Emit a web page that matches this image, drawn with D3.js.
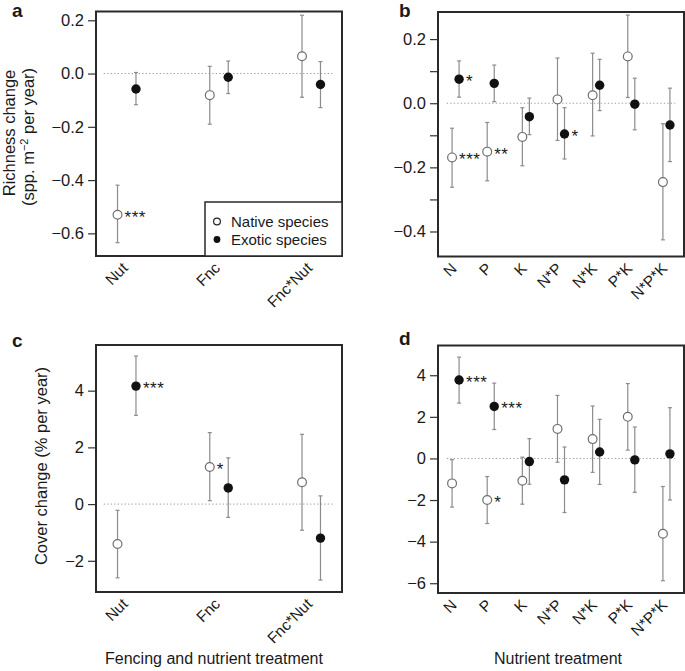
<!DOCTYPE html>
<html><head><meta charset="utf-8">
<script src="https://cdn.jsdelivr.net/npm/d3@7"></script>
<style>body{margin:0;background:#fff}svg{display:block}text{font-family:"Liberation Sans",Arial,Helvetica,sans-serif;fill:#1a1a1a}</style>
</head><body><svg id="c" width="685" height="671"></svg>
<script>
// ---------- DATA ----------
const catsFence = ["Nut", "Fnc", "Fnc*Nut"];
const catsNutr = ["N", "P", "K", "N*P", "N*K", "P*K", "N*P*K"];

// a: richness change, fencing & nutrients
const richFenceNative = [-0.53, -0.081, 0.065];
const richFenceNativeLo = [-0.635, -0.19, -0.089];
const richFenceNativeHi = [-0.419, 0.027, 0.219];
const richFenceExotic = [-0.058, -0.014, -0.041];
const richFenceExoticLo = [-0.117, -0.075, -0.128];
const richFenceExoticHi = [0.004, 0.047, 0.045];
const richFenceNativeSig = ["***", "", ""];
const richFenceExoticSig = ["", "", ""];

// b: richness change, nutrients
const richNutrNative = [-0.169, -0.151, -0.105, 0.012, 0.025, 0.146, -0.246];
const richNutrNativeLo = [-0.262, -0.242, -0.195, -0.116, -0.102, 0.018, -0.426];
const richNutrNativeHi = [-0.078, -0.06, -0.014, 0.141, 0.156, 0.275, -0.064];
const richNutrExotic = [0.075, 0.062, -0.042, -0.096, 0.056, -0.003, -0.068];
const richNutrExoticLo = [0.019, 0.005, -0.098, -0.174, -0.023, -0.083, -0.182];
const richNutrExoticHi = [0.132, 0.119, 0.016, -0.014, 0.137, 0.078, 0.047];
const richNutrNativeSig = ["***", "**", "", "", "", "", ""];
const richNutrExoticSig = ["*", "", "", "*", "", "", ""];

// c: cover change, fencing & nutrients
const covFenceNative = [-1.41, 1.31, 0.77];
const covFenceNativeLo = [-2.6, 0.12, -0.92];
const covFenceNativeHi = [-0.22, 2.52, 2.46];
const covFenceExotic = [4.16, 0.57, -1.2];
const covFenceExoticLo = [3.13, -0.47, -2.68];
const covFenceExoticHi = [5.22, 1.63, 0.29];
const covFenceNativeSig = ["", "*", ""];
const covFenceExoticSig = ["***", "", ""];

// d: cover change, nutrients
const covNutrNative = [-1.2, -2.0, -1.07, 1.42, 0.93, 2.0, -3.62];
const covNutrNativeLo = [-2.34, -3.13, -2.2, -0.18, -0.67, 0.4, -5.88];
const covNutrNativeHi = [-0.06, -0.87, 0.06, 3.03, 2.52, 3.6, -1.35];
const covNutrExotic = [3.77, 2.5, -0.15, -1.03, 0.31, -0.07, 0.22];
const covNutrExoticLo = [2.66, 1.39, -1.24, -2.6, -1.25, -1.63, -2.0];
const covNutrExoticHi = [4.87, 3.62, 0.95, 0.55, 1.88, 1.51, 2.44];
const covNutrNativeSig = ["", "*", "", "", "", "", ""];
const covNutrExoticSig = ["***", "***", "", "", "", "", ""];

// tick labels
const ticksA = [0.2, 0.0, -0.2, -0.4, -0.6];
const ticksB = [0.2, 0.1, 0.0, -0.1, -0.2, -0.3, -0.4];
const ticksBLabeled = [0.2, 0.0, -0.2, -0.4];
const ticksC = [4, 2, 0, -2];
const ticksD = [4, 2, 0, -2, -4, -6];

const legendLabels = ["Native species", "Exotic species"];
const xTitleLeft = "Fencing and nutrient treatment";
const xTitleRight = "Nutrient treatment";

// ---------- DRAW ----------
const svg = d3.select("#c");
const fmt1 = d => d === 0 ? "0.0" : d3.format(".1f")(d).replace("-", "\u2212");
const fmt0 = d => d3.format("d")(d).replace("-", "\u2212");

function series(mean, lo, hi, sig) {
  return mean.map((m, i) => ({i, m, lo: lo[i], hi: hi[i], sig: sig[i]}));
}

const panels = [
  {letter: "a", lx: 12, ly: 17, x0: 96, x1: 342, y0: 11.5, y1: 256, ydom: [-0.685, 0.233],
   cats: catsFence, xdom: [2/3, 3 + 1/3], ticks: ticksA, labeled: ticksA, fmt: fmt1,
   native: series(richFenceNative, richFenceNativeLo, richFenceNativeHi, richFenceNativeSig),
   exotic: series(richFenceExotic, richFenceExoticLo, richFenceExoticHi, richFenceExoticSig)},
  {letter: "b", lx: 399, ly: 17, x0: 438, x1: 684, y0: 12, y1: 256.5, ydom: [-0.478, 0.2845],
   cats: catsNutr, xdom: [0.5, 7.5], ticks: ticksB, labeled: ticksBLabeled, fmt: fmt1,
   native: series(richNutrNative, richNutrNativeLo, richNutrNativeHi, richNutrNativeSig),
   exotic: series(richNutrExotic, richNutrExoticLo, richNutrExoticHi, richNutrExoticSig)},
  {letter: "c", lx: 12, ly: 347, x0: 96, x1: 342, y0: 345, y1: 592, ydom: [-3.1, 5.61],
   cats: catsFence, xdom: [2/3, 3 + 1/3], ticks: ticksC, labeled: ticksC, fmt: fmt0,
   native: series(covFenceNative, covFenceNativeLo, covFenceNativeHi, covFenceNativeSig),
   exotic: series(covFenceExotic, covFenceExoticLo, covFenceExoticHi, covFenceExoticSig)},
  {letter: "d", lx: 399, ly: 345, x0: 438, x1: 684, y0: 345.5, y1: 593, ydom: [-6.47, 5.43],
   cats: catsNutr, xdom: [0.5, 7.5], ticks: ticksD, labeled: ticksD, fmt: fmt0,
   native: series(covNutrNative, covNutrNativeLo, covNutrNativeHi, covNutrNativeSig),
   exotic: series(covNutrExotic, covNutrExoticLo, covNutrExoticHi, covNutrExoticSig)}
];

const off = 0.1;
panels.forEach(p => {
  const g = svg.append("g");
  const x = d3.scaleLinear().domain(p.xdom).range([p.x0, p.x1]);
  const y = d3.scaleLinear().domain(p.ydom).range([p.y1, p.y0]);
  const n = p.cats.length;

  // zero line
  g.append("line").attr("x1", x(0.75)).attr("x2", x(n + 0.25))
    .attr("y1", y(0)).attr("y2", y(0))
    .attr("stroke", "#9a9a9a").attr("stroke-width", 1).attr("stroke-dasharray", "1.3,2.2");

  // y axis
  const yAxis = d3.axisLeft(y).tickValues(p.ticks).tickSize(8).tickPadding(4)
    .tickFormat(d => p.labeled.some(v => Math.abs(v - d) < 1e-9) ? p.fmt(d) : "");
  const ax = g.append("g").attr("transform", `translate(${p.x0},0)`).call(yAxis);
  ax.select(".domain").remove();
  ax.selectAll(".tick line").attr("stroke", "#333").attr("stroke-width", 1.2);
  ax.selectAll(".tick text").style("font-size", "16.5px").attr("fill", "#1a1a1a")
    .style("font-family", '"Liberation Sans",Arial,sans-serif');

  // x labels
  p.cats.forEach((c, i) => {
    const cx = x(i + 1);
    g.append("text").attr("text-anchor", "end")
      .attr("transform", `translate(${cx + 2},${p.y1 + 13}) rotate(-45)`)
      .style("font-size", "15.5px").text(c);
  });

  // error bars + points
  const drawSeries = (data, dx, native) => {
    data.forEach(d => {
      const px = x(d.i + 1 + dx);
      g.append("line").attr("x1", px).attr("x2", px).attr("y1", y(d.lo)).attr("y2", y(d.hi))
        .attr("stroke", "#8c8c8c").attr("stroke-width", 1.2);
      [d.lo, d.hi].forEach(v => g.append("line").attr("x1", px - 2).attr("x2", px + 2)
        .attr("y1", y(v)).attr("y2", y(v)).attr("stroke", "#8c8c8c").attr("stroke-width", 1.2));
    });
    data.forEach(d => {
      const px = x(d.i + 1 + dx);
      g.append("circle").attr("cx", px).attr("cy", y(d.m)).attr("r", native ? 4.4 : 4.7)
        .attr("fill", native ? "#fff" : "#111")
        .attr("stroke", native ? "#6e6e6e" : "none").attr("stroke-width", 1.2);
      if (d.sig) {
        g.append("text").attr("x", px + 7).attr("y", y(d.m) + 8)
          .style("font-size", "17px").style("letter-spacing", "0.5px").text(d.sig);
      }
    });
  };
  drawSeries(p.native, -off, true);
  drawSeries(p.exotic, off, false);

  // box
  g.append("rect").attr("x", p.x0).attr("y", p.y0).attr("width", p.x1 - p.x0).attr("height", p.y1 - p.y0)
    .attr("fill", "none").attr("stroke", "#2a2a2a").attr("stroke-width", 2);

  // panel letter
  svg.append("text").attr("x", p.lx).attr("y", p.ly).style("font-size", "19px").style("font-weight", "bold").text(p.letter);
});

// legend (panel a)
const lg = svg.append("g");
lg.append("rect").attr("x", 205).attr("y", 202).attr("width", 137).attr("height", 54)
  .attr("fill", "#fff").attr("stroke", "#2a2a2a").attr("stroke-width", 1.5);
legendLabels.forEach((t, i) => {
  const yy = 221.5 + i * 18;
  lg.append("circle").attr("cx", 217).attr("cy", yy).attr("r", 3.4)
    .attr("fill", i === 0 ? "#fff" : "#111").attr("stroke", i === 0 ? "#222" : "none").attr("stroke-width", 1.2);
  lg.append("text").attr("x", 231).attr("y", yy + 5.3).style("font-size", "15px").text(t);
});

// y titles
svg.append("text").attr("text-anchor", "middle")
  .attr("transform", "translate(15,133) rotate(-90)").style("font-size", "16.5px").text("Richness change");
const yt2 = svg.append("text").attr("text-anchor", "middle")
  .attr("transform", "translate(33.5,137) rotate(-90)").style("font-size", "16.5px");
yt2.append("tspan").text("(spp. m");
yt2.append("tspan").attr("dy", "-6").style("font-size", "11px").text("\u22122");
yt2.append("tspan").attr("dy", "6").text(" per year)");
svg.append("text").attr("text-anchor", "middle")
  .attr("transform", "translate(47,466) rotate(-90)").style("font-size", "16.5px").text("Cover change (% per year)");

// x titles
svg.append("text").attr("x", 214).attr("y", 664).attr("text-anchor", "middle").style("font-size", "16px").text(xTitleLeft);
svg.append("text").attr("x", 558).attr("y", 664).attr("text-anchor", "middle").style("font-size", "16px").text(xTitleRight);
</script></body></html>
